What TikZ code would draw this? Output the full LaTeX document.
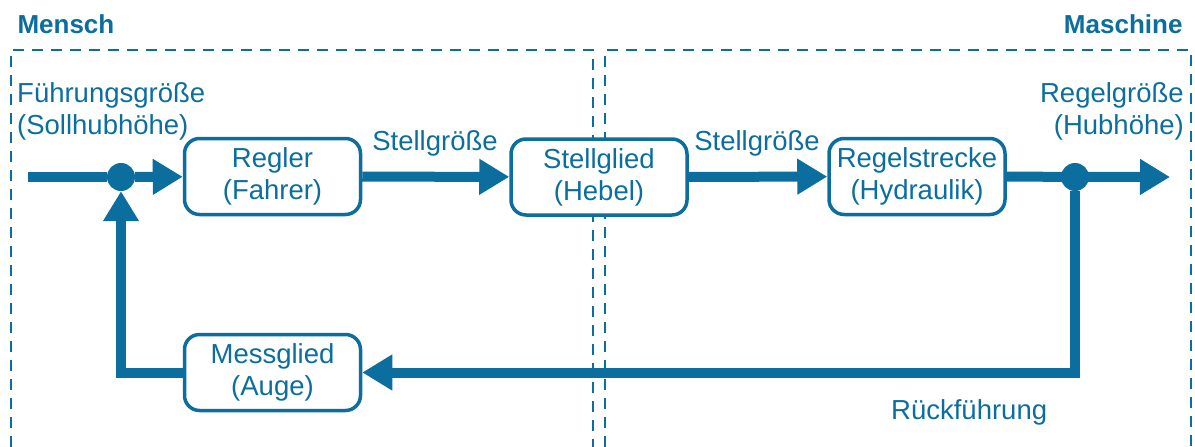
\documentclass[tikz,border=0pt]{standalone}
\usepackage{fontspec}
\setmainfont{Liberation Sans}
\usetikzlibrary{arrows.meta}
\definecolor{hblue}{RGB}{11,110,158}

\begin{document}
\begin{tikzpicture}[x=1pt,y=-1pt,
    every node/.style={text=hblue,font=\fontsize{27.5}{32}\selectfont},
    block/.style={draw=hblue,fill=white,line width=3.5pt,rounded corners=15pt,
      minimum width=176pt,minimum height=76pt,align=center,inner sep=0pt},
    joint/.style={circle,fill=hblue,minimum size=28pt,inner sep=0pt},
    signal/.style={draw=hblue,line width=10pt},
    tip/.style={-{Triangle[length=30pt,width=34pt]}},
    zone/.style={draw=hblue,line width=2.8pt,dash pattern=on 11pt off 8pt}]
  \useasboundingbox (0,0) rectangle (1195,447);

  % Mensch / Maschine
  \draw[zone] (11,447) -- (11,50) -- (593,50) -- (593,447);
  \draw[zone] (605,447) -- (605,50) -- (1191,50) -- (1191,447);
  \node[anchor=base west,font=\fontsize{26}{31}\selectfont\bfseries] (mensch) at (14,34) {Mensch};
  \node[anchor=base east,font=\fontsize{26}{31}\selectfont\bfseries] (maschine) at (1186,34) {Maschine};

  % blocks
  \node[block] (regler) at (272.5,176.5) {Regler\\(Fahrer)};
  \node[block] (stellglied) at (599,177) {Stellglied\\(Hebel)};
  \node[block] (strecke) at (917,176.5) {Regelstrecke\\(Hydraulik)};
  \node[block] (messglied) at (272.5,372.5) {Messglied\\(Auge)};

  \node[joint] (j1) at (121,177) {};
  \node[joint] (j2) at (1075,177) {};
  \coordinate (in) at (28,177);
  \coordinate (out) at (1170,177);

  % signals
  \draw[signal] (in) -- (j1);
  \draw[signal,tip] (j1) -- (regler);
  \draw[signal,tip] (regler) -- (stellglied);
  \draw[signal,tip] (stellglied) -- (strecke);
  \draw[signal,tip] (strecke) -- (out);
  \draw[signal,tip] (j2) |- (messglied);
  \draw[signal,tip] (messglied) -| (j1);

  % labels
  \node[anchor=base west,align=left,inner sep=0pt] (fuehrung) at (17,134) {Führungsgröße\\(Sollhubhöhe)};
  \node[anchor=base east,align=right,inner sep=0pt] (regelgr) at (1184,134) {Regelgröße\\(Hubhöhe)};
  \node[anchor=base,inner sep=0pt] (stell1) at (435,150) {Stellgröße};
  \node[anchor=base,inner sep=0pt] (stell2) at (757,150) {Stellgröße};
  \node[anchor=base west,inner sep=0pt] (rueck) at (891,419) {Rückführung};
\end{tikzpicture}
\end{document}
